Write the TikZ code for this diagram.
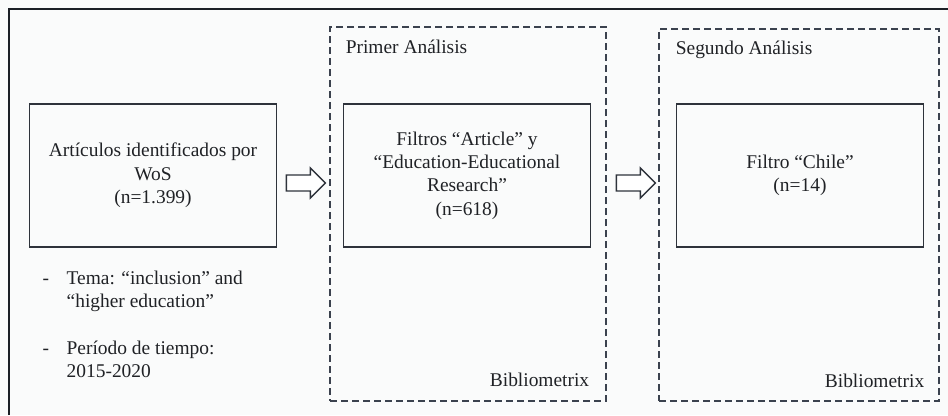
\documentclass[tikz,border=0pt]{standalone}
\usepackage{fontspec}
\setmainfont{Liberation Serif}
\usetikzlibrary{positioning,calc}
\definecolor{paper}{HTML}{FAFBFB}
\definecolor{frameline}{HTML}{1C2026}
\definecolor{boxline}{HTML}{2E333B}
\definecolor{dashline}{HTML}{3B424E}
\definecolor{inktext}{HTML}{202226}
\begin{document}
\begin{tikzpicture}[x=1bp,y=-1bp,
  every node/.style={font=\fontsize{19.5}{23.5}\selectfont,text=inktext},
  stage/.style={draw=boxline,line width=1.6bp,minimum width=247bp,
    minimum height=143bp,align=center,inner sep=0pt},
  phase/.style={draw=dashline,line width=1.4bp,dash pattern=on 7bp off 4bp,
    minimum width=276bp,minimum height=374bp,inner sep=0pt},
  hollow/.style={draw=boxline,line width=1.4bp,fill=white,line join=miter}]
  \useasboundingbox (0,0) rectangle (948,415);
  \fill[paper] (0,0) rectangle (948,415);
  \draw[frameline,line width=2bp] (8.5,415) -- (8.5,8.5) -- (948,8.5);
  \def\blockarrow(#1){
    \draw[hollow] (#1) -- ++(-15,-15) -- ++(0,7) -- ++(-24,0) -- ++(0,16)
      -- ++(24,0) -- ++(0,7) -- cycle;
  }
  % fases de analisis
  \node[phase] (fase1) at (468,214) {};
  \node[phase,minimum width=280bp,minimum height=372bp] (fase2) at (799,215) {};
  \node[anchor=base west] (prim) at ($(fase1.north west)+(13,27)$) {Primer Análisis};
  \node[anchor=base west] (seg) at ($(fase2.north west)+(14,26)$) {Segundo Análisis};
  \node[anchor=base east] (biblio1) at ($(fase1.south east)+(-14,-15)$) {Bibliometrix};
  \node[anchor=base east] (biblio2) at ($(fase2.south east)+(-12,-14)$) {Bibliometrix};
  % cajas
  \node[stage] (wos) at (153,175.5) {Artículos identificados por\\WoS\\(n=1.399)};
  \node[stage] (filtro1) at (467,175.5)
    {Filtros “Article” y\\“Education-Educational\\Research”\\(n=618)};
  \node[stage] (filtro2) at (800,175.5) {Filtro “Chile”\\(n=14)};
  % criterios de busqueda
  \node[anchor=north west,align=left,inner sep=0pt] (criterios) at (42.5,270.5)
    {\makebox[24bp][l]{-}Tema: “inclusion” and\\
     \hspace*{24bp}“higher education”\\[23.5bp]
     \makebox[24bp][l]{-}Período de tiempo:\\
     \hspace*{24bp}2015-2020};
  % flechas
  \coordinate (tip1) at ($(fase1.west |- wos.east)+(-4,7.5)$);
  \coordinate (tip2) at ($(fase2.west |- filtro1.east)+(-3,7.5)$);
  \blockarrow(tip1)
  \blockarrow(tip2)
\end{tikzpicture}
\end{document}
